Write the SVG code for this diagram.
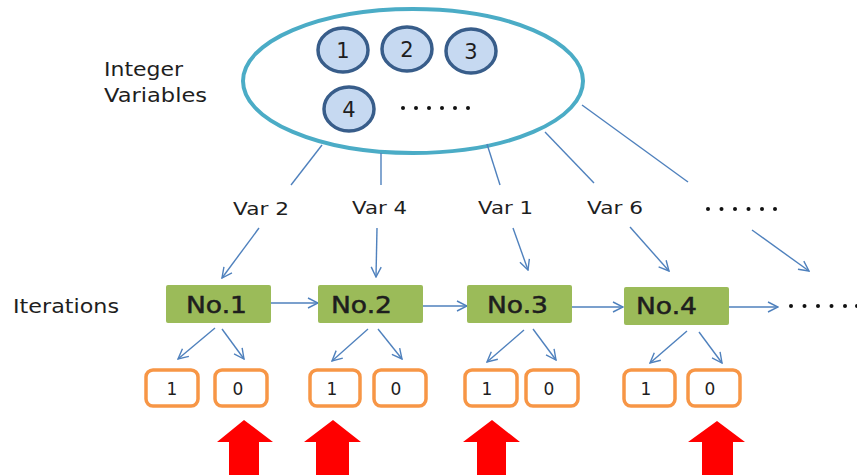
<svg xmlns="http://www.w3.org/2000/svg" width="857" height="475" viewBox="0 0 857 475">
<style>
  .lbl{font-family:"DejaVu Sans","Liberation Sans",sans-serif;fill:#1e1e1e;}
  .no{stroke:#1e1e1e;stroke-width:0.5;}
  .con{stroke:#4f81bd;stroke-width:1.4;fill:none;}
  .arr{marker-end:url(#ah);}
  .var{fill:#c6d9f1;stroke:#385d8a;stroke-width:3.5;}
  .it{fill:#9bbb59;}
  .bit{fill:#fff;stroke:#f79646;stroke-width:3.5;}
  .red{fill:#ff0000;}
  .dot{fill:#111;}
</style>
<defs>
  <marker id="ah" viewBox="0 0 12 12" markerWidth="12" markerHeight="12" refX="11" refY="6" orient="auto" markerUnits="userSpaceOnUse">
    <path d="M1,1 L11,6 L1,11" fill="none" stroke="#4f81bd" stroke-width="1.4"/>
  </marker>
</defs>
<rect width="857" height="475" fill="#fff"/>

<g id="labels">
  <text class="lbl" x="104" y="76" font-size="19" textLength="79" lengthAdjust="spacingAndGlyphs">Integer</text>
  <text class="lbl" x="104" y="102" font-size="19" textLength="103" lengthAdjust="spacingAndGlyphs">Variables</text>
  <text class="lbl" x="13" y="313" font-size="19" textLength="106" lengthAdjust="spacingAndGlyphs">Iterations</text>
</g>

<g id="pool">
  <ellipse cx="413" cy="81" rx="170" ry="72" fill="#fff" stroke="#4bacc6" stroke-width="4"/>
  <g id="v1"><ellipse class="var" cx="343" cy="50" rx="25" ry="22"/><text class="lbl" x="343" y="57.5" font-size="21" text-anchor="middle">1</text></g>
  <g id="v2"><ellipse class="var" cx="407" cy="49" rx="25" ry="22"/><text class="lbl" x="407" y="56.5" font-size="21" text-anchor="middle">2</text></g>
  <g id="v3"><ellipse class="var" cx="471" cy="51" rx="25" ry="22"/><text class="lbl" x="471" y="58.5" font-size="21" text-anchor="middle">3</text></g>
  <g id="v4"><ellipse class="var" cx="349" cy="109" rx="25" ry="22"/><text class="lbl" x="349" y="116.5" font-size="21" text-anchor="middle">4</text></g>
  <g id="pooldots">
    <circle class="dot" cx="403" cy="108" r="2"/><circle class="dot" cx="416" cy="108" r="2"/><circle class="dot" cx="429" cy="108" r="2"/>
    <circle class="dot" cx="442" cy="108" r="2"/><circle class="dot" cx="455" cy="108" r="2"/><circle class="dot" cx="468" cy="108" r="2"/>
  </g>
</g>

<g id="varlabels">
  <text class="lbl" x="233" y="215" font-size="18.5" textLength="56" lengthAdjust="spacingAndGlyphs">Var 2</text>
  <text class="lbl" x="352" y="214" font-size="18.5" textLength="55" lengthAdjust="spacingAndGlyphs">Var 4</text>
  <text class="lbl" x="478" y="214" font-size="18.5" textLength="55" lengthAdjust="spacingAndGlyphs">Var 1</text>
  <text class="lbl" x="587" y="214" font-size="18.5" textLength="56" lengthAdjust="spacingAndGlyphs">Var 6</text>
  <g id="vardots">
    <circle class="dot" cx="708" cy="209" r="2"/><circle class="dot" cx="721.5" cy="209" r="2"/><circle class="dot" cx="735" cy="209" r="2"/>
    <circle class="dot" cx="748.5" cy="209" r="2"/><circle class="dot" cx="762" cy="209" r="2"/><circle class="dot" cx="775" cy="209" r="2"/>
  </g>
</g>

<g id="connectors">
  <line class="con" x1="322" y1="145" x2="291" y2="185"/>
  <line class="con" x1="381" y1="153" x2="381" y2="185"/>
  <line class="con" x1="487" y1="144" x2="500" y2="185"/>
  <line class="con" x1="545" y1="132" x2="594" y2="183"/>
  <line class="con" x1="582" y1="105" x2="688" y2="182"/>

  <line class="con arr" x1="259" y1="228" x2="222" y2="278"/>
  <line class="con arr" x1="377" y1="228" x2="376" y2="277"/>
  <line class="con arr" x1="513" y1="228" x2="528" y2="270"/>
  <line class="con arr" x1="630" y1="227" x2="669" y2="271"/>
  <line class="con arr" x1="752" y1="230" x2="809" y2="271"/>

  <line class="con arr" x1="271" y1="303" x2="318" y2="303"/>
  <line class="con arr" x1="423" y1="306" x2="467" y2="306"/>
  <line class="con arr" x1="572" y1="307" x2="623" y2="307"/>
  <line class="con arr" x1="729" y1="307" x2="778" y2="307"/>

  <line class="con arr" x1="215" y1="328" x2="178" y2="359"/>
  <line class="con arr" x1="222" y1="329" x2="244" y2="359"/>
  <line class="con arr" x1="368" y1="329" x2="332" y2="361"/>
  <line class="con arr" x1="378" y1="329" x2="402" y2="359"/>
  <line class="con arr" x1="524" y1="330" x2="487" y2="362"/>
  <line class="con arr" x1="533" y1="329" x2="556" y2="360"/>
  <line class="con arr" x1="687" y1="331" x2="650" y2="363"/>
  <line class="con arr" x1="699" y1="332" x2="722" y2="363"/>
</g>

<g id="iterdots">
  <circle class="dot" cx="791" cy="306" r="2"/><circle class="dot" cx="804.5" cy="306" r="2"/><circle class="dot" cx="818" cy="306" r="2"/>
  <circle class="dot" cx="831.5" cy="306" r="2"/><circle class="dot" cx="845" cy="306" r="2"/><circle class="dot" cx="857" cy="306" r="2"/>
</g>

<g id="it1"><rect class="it" x="166" y="285" width="105" height="38" rx="2"/><text class="lbl no" x="186" y="313" font-size="23" textLength="61" lengthAdjust="spacingAndGlyphs">No.1</text></g>
<g id="it2"><rect class="it" x="318" y="285" width="105" height="38" rx="2"/><text class="lbl no" x="331" y="313" font-size="23" textLength="61" lengthAdjust="spacingAndGlyphs">No.2</text></g>
<g id="it3"><rect class="it" x="467" y="285" width="105" height="38" rx="2"/><text class="lbl no" x="487" y="313" font-size="23" textLength="61" lengthAdjust="spacingAndGlyphs">No.3</text></g>
<g id="it4"><rect class="it" x="624" y="287" width="105" height="38" rx="2"/><text class="lbl no" x="636" y="314" font-size="23" textLength="61" lengthAdjust="spacingAndGlyphs">No.4</text></g>

<g id="b1a"><rect class="bit" x="146" y="370" width="52" height="36" rx="7"/><text class="lbl" x="172" y="395" font-size="17" text-anchor="middle">1</text></g>
<g id="b1b"><rect class="bit" x="215" y="370" width="52" height="36" rx="7"/><text class="lbl" x="238" y="395" font-size="17" text-anchor="middle">0</text></g>
<g id="b2a"><rect class="bit" x="310" y="370" width="50" height="36" rx="7"/><text class="lbl" x="332" y="395" font-size="17" text-anchor="middle">1</text></g>
<g id="b2b"><rect class="bit" x="374" y="370" width="52" height="36" rx="7"/><text class="lbl" x="396" y="395" font-size="17" text-anchor="middle">0</text></g>
<g id="b3a"><rect class="bit" x="465" y="370" width="52" height="36" rx="7"/><text class="lbl" x="487" y="395" font-size="17" text-anchor="middle">1</text></g>
<g id="b3b"><rect class="bit" x="526" y="370" width="52" height="36" rx="7"/><text class="lbl" x="549" y="395" font-size="17" text-anchor="middle">0</text></g>
<g id="b4a"><rect class="bit" x="624" y="370" width="51" height="36" rx="7"/><text class="lbl" x="646" y="395" font-size="17" text-anchor="middle">1</text></g>
<g id="b4b"><rect class="bit" x="688" y="370" width="52" height="36" rx="7"/><text class="lbl" x="710" y="395" font-size="17" text-anchor="middle">0</text></g>

<g id="marks">
  <polygon class="red" points="244,420 273,442 259,442 259,475 229,475 229,442 217,442"/>
  <polygon class="red" points="333,420 361,442 349,442 349,475 316,475 316,442 304,442"/>
  <polygon class="red" points="492,420 520,442 506,442 506,475 477,475 477,442 463,442"/>
  <polygon class="red" points="717,421 745,442 733,442 733,475 702,475 702,442 688,442"/>
</g>
</svg>
